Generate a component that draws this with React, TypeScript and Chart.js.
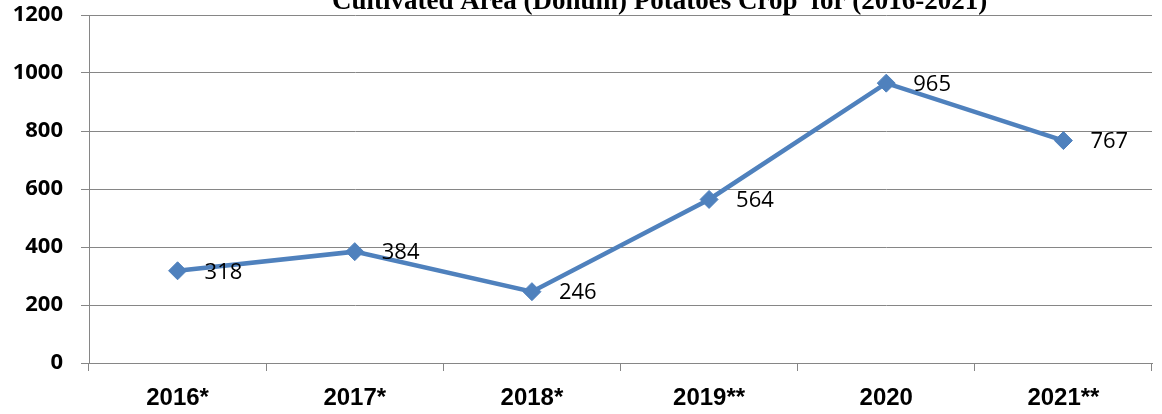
import React, { useEffect, useRef } from "react";
import { Chart, registerables } from "chart.js";

Chart.register(...registerables);

const TITLE = "Cultivated Area (Donum) Potatoes Crop  for (2016-2021)";
const categories = ["2016*", "2017*", "2018*", "2019**", "2020", "2021**"];
const areaValues = [318, 384, 246, 564, 965, 767];
const yTicks = [0, 200, 400, 600, 800, 1000, 1200];

const LINE_BLUE = "#4F81BD";
const GRID_GRAY = "#868686";

const titlePlugin = {
  id: "clippedTitle",
  afterDraw(chart: any) {
    const ctx = chart.ctx;
    ctx.save();
    ctx.font = `bold 27px "Liberation Serif", "Times New Roman", serif`;
    ctx.fillStyle = "#000";
    ctx.textAlign = "left";
    ctx.textBaseline = "alphabetic";
    ctx.fillText(TITLE, 332, 8.5);
    ctx.restore();
  },
};

const valueLabelPlugin = {
  id: "valueLabels",
  afterDatasetsDraw(chart: any) {
    const ctx = chart.ctx;
    const meta = chart.getDatasetMeta(0);
    ctx.save();
    ctx.font = `22px "Open Sans", "Noto Sans", sans-serif`;
    ctx.fillStyle = "#000";
    ctx.textAlign = "left";
    ctx.textBaseline = "middle";
    meta.data.forEach((pt: any, i: number) => {
      ctx.fillText(String(areaValues[i]), pt.x + 27, pt.y + 1.5);
    });
    ctx.restore();
  },
};

export default function App() {
  const canvasRef = useRef<HTMLCanvasElement | null>(null);

  useEffect(() => {
    document.body.style.margin = "0";
    const canvas = canvasRef.current;
    if (!canvas) return;
    const chart = new Chart(canvas, {
      type: "line",
      data: {
        labels: categories,
        datasets: [
          {
            data: areaValues,
            borderColor: LINE_BLUE,
            backgroundColor: LINE_BLUE,
            borderWidth: 4.5,
            pointStyle: "rectRot",
            pointRadius: 9,
            pointHoverRadius: 9,
            pointBackgroundColor: LINE_BLUE,
            pointBorderColor: LINE_BLUE,
            pointBorderWidth: 1,
            tension: 0,
          },
        ],
      },
      options: {
        animation: false,
        responsive: false,
        maintainAspectRatio: false,
        layout: { padding: { top: 15, right: 4, left: 0, bottom: 0 } },
        plugins: {
          legend: { display: false },
          title: { display: false },
          tooltip: { enabled: false },
        },
        scales: {
          x: {
            type: "category",
            offset: true,
            grid: {
              offset: true,
              drawOnChartArea: false,
              drawTicks: true,
              tickLength: 8,
              color: GRID_GRAY,
              lineWidth: 1,
            },
            border: { display: true, color: GRID_GRAY, width: 1 },
            ticks: {
              color: "#000",
              padding: 13,
              font: { family: '"Liberation Sans", Arial, sans-serif', size: 24, weight: "bold" },
              maxRotation: 0,
              autoSkip: false,
            },
            afterFit(scale: any) {
              scale.height = 51;
              scale.paddingLeft = 0;
              scale.paddingRight = 0;
            },
          },
          y: {
            min: 0,
            max: 1200,
            afterBuildTicks(scale: any) {
              scale.ticks = yTicks.map((v) => ({ value: v }));
            },
            grid: {
              drawOnChartArea: true,
              drawTicks: true,
              tickLength: 8,
              color: GRID_GRAY,
              lineWidth: 1,
            },
            border: { display: true, color: GRID_GRAY, width: 1 },
            ticks: {
              color: "#000",
              padding: 18,
              font: { family: '"Open Sans", "Noto Sans", sans-serif', size: 22, weight: "bold" },
              callback: (v: any) => String(v),
            },
            afterFit(scale: any) {
              scale.width = 89;
              scale.paddingTop = 0;
              scale.paddingBottom = 0;
            },
          },
        },
      },
      plugins: [titlePlugin, valueLabelPlugin],
    } as any);
    return () => chart.destroy();
  }, []);

  return (
    <div style={{ position: "absolute", left: 0, top: 0, width: 1162, height: 414, background: "#fff" }}>
      <canvas ref={canvasRef} width={1162} height={414} style={{ display: "block", width: 1162, height: 414 }} />
    </div>
  );
}
